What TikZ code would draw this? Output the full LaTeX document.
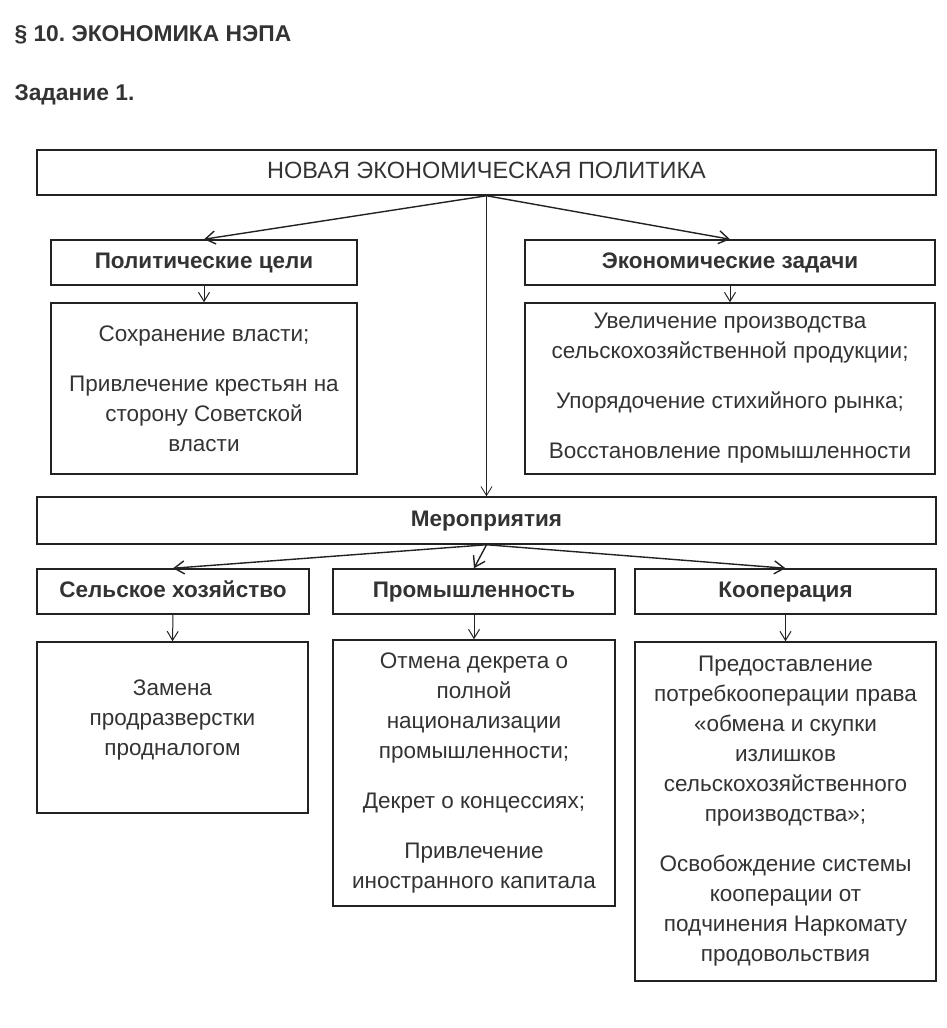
\documentclass[tikz,border=0pt]{standalone}
\usepackage{fontspec}
\setmainfont{Liberation Sans}
\usepackage{xcolor}
\definecolor{inkline}{RGB}{34,34,34}
\definecolor{inktext}{RGB}{51,51,51}
\usetikzlibrary{arrows.meta, positioning}
\frenchspacing

\begin{document}
\begin{tikzpicture}[
    x=1pt, y=-1pt,
    font=\fontsize{22.5}{30}\selectfont,
    framebox/.style={rectangle, draw=inkline, line width=1.5pt, inner sep=0pt, text=inktext},
    topbox/.style={framebox, minimum height=45pt, text height=16pt, text depth=4pt},
    headbox/.style={topbox, font=\fontsize{22.5}{30}\selectfont\bfseries},
    infobox/.style={framebox, align=center, minimum height=171pt},
    arr/.style={-{Straight Barb[length=10pt, width=13pt]}, line width=1.4pt, inkline},
    thinarr/.style={-{Straight Barb[length=9pt, width=11pt]}, line width=1pt, inkline}
]
\useasboundingbox (0,0) rectangle (947,1028);

% titles
\node[anchor=west, text=inktext, font=\fontsize{22.8}{24}\selectfont\bfseries] (title) at (11,35) {§ 10. ЭКОНОМИКА НЭПА};
\node[anchor=west, text=inktext, font=\fontsize{22.8}{24}\selectfont\bfseries] (task) at (11,95) {Задание 1.};

% top level
\node[topbox, minimum width=899pt, font=\fontsize{23.5}{30}\selectfont] (nep) at (486.5,172.5) {НОВАЯ ЭКОНОМИЧЕСКАЯ ПОЛИТИКА};

\node[headbox, minimum width=306pt] (pol) at (204,262.5) {Политические цели};
\node[headbox, minimum width=410pt] (eco) at (730,262.5) {Экономические задачи};

\node[infobox, minimum width=306pt] (poltxt) at (204,388.5)
    {Сохранение власти;\\[20pt]Привлечение крестьян на\\сторону Советской\\власти};
\node[infobox, minimum width=410pt] (ecotxt) at (730,388.5)
    {Увеличение производства\\сельскохозяйственной продукции;\\[20pt]Упорядочение стихийного рынка;\\[20pt]Восстановление промышленности};

% measures
\node[headbox, minimum width=899pt, minimum height=47pt] (mer) at (486.5,520.5) {Мероприятия};

\node[headbox, minimum width=272pt] (agr) at (173,591.5) {Сельское хозяйство};
\node[headbox, minimum width=282pt] (ind) at (474,591.5) {Промышленность};
\node[headbox, minimum width=301pt] (coop) at (785.5,591.5) {Кооперация};

\node[infobox, minimum width=271pt] (agrtxt) at (172.5,727.5)
    {Замена\\продразверстки\\продналогом\\[-10pt]};
\node[infobox, minimum width=282pt, minimum height=266pt] (indtxt) at (474,773)
    {Отмена декрета о\\полной\\национализации\\промышленности;\\[20pt]Декрет о концессиях;\\[20pt]Привлечение\\иностранного капитала};
\node[infobox, minimum width=301pt, minimum height=339pt] (cooptxt) at (785.5,811.5)
    {Предоставление\\потребкооперации права\\«обмена и скупки\\излишков\\сельскохозяйственного\\производства»;\\[20pt]Освобождение системы\\кооперации от\\подчинения Наркомату\\продовольствия};

% connectors
\draw[arr] (nep.south) -- (pol.north);
\draw[arr] (nep.south) -- (eco.north);
\draw[thinarr, line width=0.8pt] (nep.south) -- (mer.north);
\draw[thinarr] (pol.south) -- (poltxt.north);
\draw[thinarr] (eco.south) -- (ecotxt.north);

\draw[arr] (mer.south) -- (agr.north);
\draw[arr] (mer.south) -- (ind.north);
\draw[arr] (mer.south) -- (coop.north);

\draw[thinarr] (agr.south) -- (agrtxt.north);
\draw[thinarr] (ind.south) -- (indtxt.north);
\draw[thinarr] (coop.south) -- (cooptxt.north);

\end{tikzpicture}
\end{document}
